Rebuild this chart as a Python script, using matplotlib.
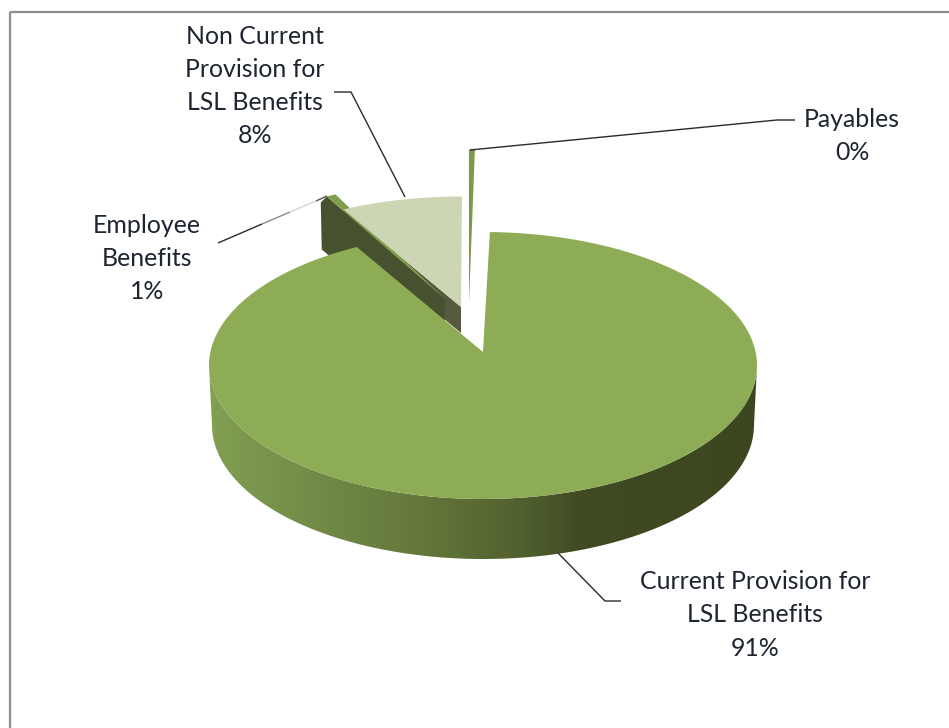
import numpy as np
import matplotlib
matplotlib.use("Agg")
import matplotlib.pyplot as plt
from matplotlib.colors import LinearSegmentedColormap
from matplotlib.patches import PathPatch, Rectangle
from matplotlib.path import Path

plt.rcParams["font.family"] = ["Lato", "DejaVu Sans"]

# Share of the provision, clockwise from the top of the pie
categories = ["Current Provision for\nLSL Benefits", "Employee\nBenefits",
              "Non Current\nProvision for\nLSL Benefits", "Payables"]
shares = [91.0, 0.6, 8.0, 0.4]

# Pie layout in canvas pixels
W, H = 949, 728
RX, RY = 274, 133.5
FIRST_ANGLE = 88.56
FORESHORTEN = -3.9
# slice ellipse centre and apex for each slice
CENTRES = [(483, 365.5), (453, 315), (461, 330), (468, 283)]
APEXES = [(483, 352), (445, 299), (461, 307), (469, 303)]
TOP_COLOURS = ["#8eac55", "#7f9f4d", "#ccd6b4", "#7b9a4c"]

LABEL_CENTRES = [(755, 615), (147, 258.5), (255, 86), (852, 136)]
LEADERS = [([558, 605, 621], [553, 601, 601]),
           ([334, 351, 405], [92, 92, 197]),
           ([470, 777, 795], [150, 120, 120])]
# The employee leader fades out along its length
FADING_LEADER = [((218, 243), (262, 224), "#2a2a2a"),
                 ((262, 224), (290, 212), "#8a8a8a"),
                 ((290, 212), (316, 201), "#d4d4d4"),
                 ((316, 201), (327, 196), "#555555")]


def warp(theta):
    """Perspective squeeze of the pie angle near the back of the disc."""
    return theta + FORESHORTEN * np.sin(np.radians(2 * (theta - FIRST_ANGLE)))


def rim(start, stop, cx, cy, rx=RX, ry=RY, n=400):
    t = np.radians(warp(np.linspace(start, stop, n)))
    return cx + rx * np.cos(t), cy - ry * np.sin(t)


def fill_closed(ax, xs, ys, colour, z):
    ax.fill(xs, ys, facecolor=colour, edgecolor="none", zorder=z)


fig = plt.figure(figsize=(W / 100, H / 100), dpi=100, facecolor="white")
ax = fig.add_axes([0, 0, 1, 1])
ax.axis("off")

# Chart frame
ax.add_patch(Rectangle((10, 12), 1200, 1200, fill=False, edgecolor="#8e8e8e", lw=1.6, zorder=1))

# Slice limits from the shares
sweep = np.array(shares) * 3.6
stops = FIRST_ANGLE - np.cumsum(sweep)
starts = stops + sweep

# Side faces behind the main slice
cx, cy = CENTRES[2]
ax_, ay_ = APEXES[2]
ox, oy = rim(starts[2], starts[2], cx, cy, n=1)
fill_closed(ax, [ox[0], ax_, ax_, ox[0]], [oy[0], ay_, ay_ + 26, oy[0] + 26], "#56583f", 2)

cx, cy = CENTRES[1]
ax_, ay_ = APEXES[1]
ox, oy = rim(starts[1], starts[1], cx, cy, n=1)
fill_closed(ax, [ox[0] - 6, ox[0], ax_, ax_, ox[0] - 5],
            [oy[0] + 6, oy[0], ay_, ay_ + 55, oy[0] + 53], "#48512f", 3)

# Top faces of the pulled-out slices
for i in (1, 2, 3):
    rx_, ry_ = rim(starts[i], stops[i], *CENTRES[i], n=60)
    ap = APEXES[i]
    fill_closed(ax, np.r_[ap[0], rx_], np.r_[ap[1], ry_], TOP_COLOURS[i], 4)

# Main slice: rim wall with its left-to-right shading
tx, ty = rim(starts[0], stops[0], *CENTRES[0], n=1600)
front = ty >= CENTRES[0][1]
order = np.argsort(tx[front])
wall_tx, wall_ty = tx[front][order], ty[front][order]
t = np.linspace(0, np.pi, 300)
low_x = CENTRES[0][0] - 271 * np.cos(t)
low_y = CENTRES[0][1] + 59.5 + 134 * np.sin(t)
wall_xy = np.column_stack([np.r_[wall_tx, low_x[::-1]], np.r_[wall_ty, low_y[::-1]]])
wall_path = Path(np.vstack([wall_xy, wall_xy[:1]]), closed=True)
wall_patch = PathPatch(wall_path, facecolor="none", edgecolor="none", zorder=5)
ax.add_patch(wall_patch)
shade = LinearSegmentedColormap.from_list(
    "wall",
    [(0.0, "#829f52"), (0.17, "#748d48"), (0.37, "#65793c"),
     (0.56, "#52622f"), (0.68, "#404a23"), (1.0, "#3c4720")])
im = ax.imshow(np.linspace(0, 1, 256)[None, :], cmap=shade, aspect="auto",
               extent=(209, 757, 560, 360), zorder=5, interpolation="bilinear")
im.set_clip_path(wall_patch)

# Main slice top face
mx, my = rim(starts[0], stops[0], *CENTRES[0], n=1600)
fill_closed(ax, np.r_[APEXES[0][0], mx], np.r_[APEXES[0][1], my], TOP_COLOURS[0], 6)

ax.set_xlim(0, W)
ax.set_ylim(H, 0)

# Leader lines and category labels
for (lx, ly) in LEADERS:
    ax.plot(lx, ly, color="#2a2a2a", lw=1.0, zorder=7, solid_capstyle="butt")
for p, q, colour in FADING_LEADER:
    ax.plot([p[0], q[0]], [p[1], q[1]], color=colour, lw=1.0, zorder=7, solid_capstyle="butt")
for name, share, (x, y) in zip(categories, shares, LABEL_CENTRES):
    ax.text(x, y, f"{name}\n{round(share)}%", ha="center", va="center",
            fontsize=17.9, color="#1e2530", linespacing=1.53, zorder=8)

fig.savefig("out.png", dpi=100, facecolor="white")
